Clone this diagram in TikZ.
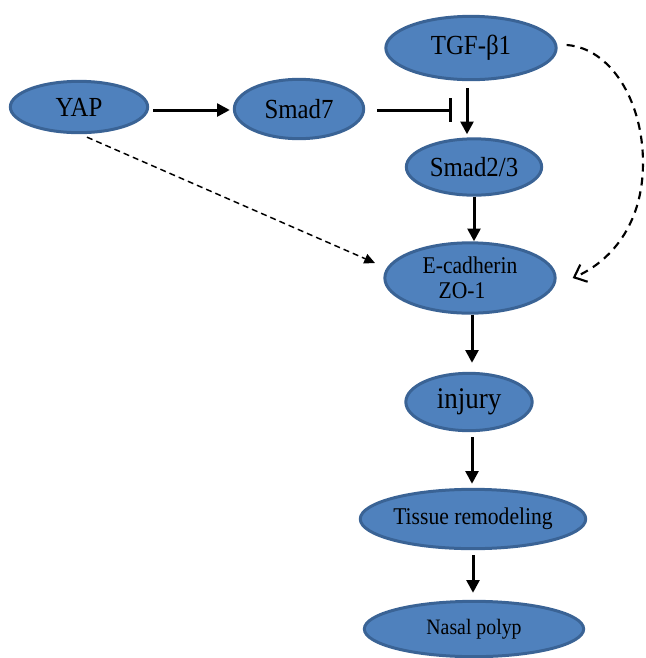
\documentclass[tikz,border=0pt]{standalone}
\usepackage{fontspec}
\setmainfont[FakeStretch=0.9]{Liberation Serif}
\usetikzlibrary{arrows.meta,shapes.geometric,calc}
\definecolor{nodefill}{HTML}{4F81BD}
\definecolor{nodeline}{HTML}{3A6395}
\begin{document}
\begin{tikzpicture}[x=0.75pt,y=-0.75pt,
  oval/.style={ellipse, draw=nodeline, fill=nodefill, line width=2.25pt, inner sep=0pt, text=black},
  arr/.style={line width=2.25pt, -{Triangle[length=9.5pt,width=9.5pt]}},
  inh/.style={line width=2.25pt, -{Bar[width=18pt]}},
  dsh/.style={line width=1.1pt, dash pattern=on 4.5pt off 3pt, -{Triangle[length=8pt,width=7.5pt]}},
  dshc/.style={line width=1.6pt, dash pattern=on 6pt off 4.5pt, -{Straight Barb[length=8pt,width=14pt]}},
  fbig/.style={font=\fontsize{20.7pt}{24pt}\selectfont},
  fmid/.style={font=\fontsize{18pt}{19pt}\selectfont},
]
\useasboundingbox (0,0) rectangle (646,658);

\node[oval,fbig,minimum width=103pt,minimum height=38.5pt] (yap) at (79,107) {YAP};
\node[oval,fbig,minimum width=97pt,minimum height=44.5pt] (smad7) at (299,109) {Smad7};
\node[oval,fbig,minimum width=127.75pt,minimum height=47.5pt] (tgf) at (471,48) {TGF-β1};
\node[oval,fbig,minimum width=101.5pt,minimum height=42.25pt] (smad23) at (474,167) {Smad2/3};
\node[oval,fmid,align=left,minimum width=127.75pt,minimum height=52.75pt] (ecad) at (470,278) {E-cadherin\\\hspace*{12pt}ZO-1};
\node[oval,font=\fontsize{22.5pt}{26pt}\selectfont,minimum width=94.75pt,minimum height=43pt] (injury) at (469,402) {injury};
\node[oval,fmid,minimum width=165.25pt,minimum height=44.5pt] (tissue) at (473,519) {Tissue remodeling};
\node[oval,font=\fontsize{16.5pt}{18pt}\selectfont,minimum width=164.5pt,minimum height=41.5pt] (nasal) at (474,629) {Nasal polyp};

\coordinate (barend) at ($(tgf.center)+(-19,62)$);

\draw[arr] ($(yap.east)+(4,3)$) -- ($(smad7.west)+(-3,1)$);
\draw[inh] ($(smad7.east)+(12,1)$) -- (barend);
\draw[arr] ($(tgf.south)+(-4,7)$) -- ($(smad23.north)+(-7,-3)$);
\draw[arr] (smad23.south) -- (smad23.south |- ecad.north);
\draw[arr] ($(ecad.south)+(2,0)$) -- ($(ecad.south |- injury.north)+(2,-9)$);
\draw[arr] ($(injury.south)+(3,5)$) -- ($(injury.south |- tissue.north)+(3,-4)$);
\draw[arr] ($(tissue.south)+(0,5)$) -- ($(tissue.south |- nasal.north)+(0,-7)$);

\draw[dsh] ($(yap.south)+(8,3)$) -- ($(ecad.center)+(-95,-15)$);
\draw[dshc] ($(tgf.east)+(9,-3)$) .. controls (610,48) and (643,100) .. (643,163)
  .. controls (643,225) and (610,262) .. ($(ecad.east)+(16,0)$);
\end{tikzpicture}
\end{document}
